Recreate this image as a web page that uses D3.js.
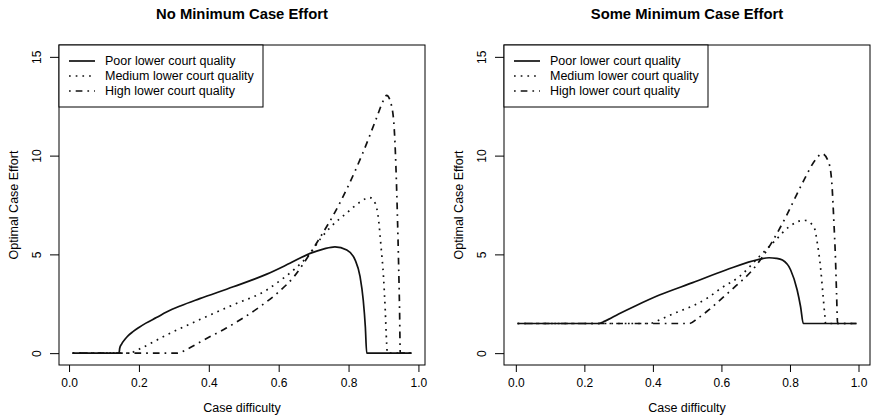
<!DOCTYPE html>
<html>
<head>
<meta charset="utf-8">
<script src="https://cdn.jsdelivr.net/npm/d3@7"></script>
<style>
  body { margin: 0; background: #fff; }
  svg { display: block; font-family: "Liberation Sans", Arial, Helvetica, sans-serif; }
</style>
</head>
<body>
<div id="chart"></div>
<script>
// ---- data ----
const seriesNames = ["Poor lower court quality", "Medium lower court quality", "High lower court quality"];
const xTicks = [0, 0.2, 0.4, 0.6, 0.8, 1.0];
const yTicks = [0, 5, 10, 15];
const titles = ["No Minimum Case Effort", "Some Minimum Case Effort"];

// panel 1: no minimum
const noMinPoorX = [0.01, 0.143, 0.145, 0.15, 0.16, 0.17, 0.183, 0.2, 0.22, 0.25, 0.279, 0.32, 0.374, 0.47, 0.566, 0.632, 0.69, 0.73, 0.761, 0.795, 0.819, 0.833, 0.842, 0.848, 0.852, 0.98];
const noMinPoorY = [0, 0, 0.25, 0.45, 0.7, 0.9, 1.09, 1.3, 1.52, 1.8, 2.08, 2.4, 2.76, 3.36, 4.0, 4.55, 5.05, 5.28, 5.38, 5.22, 4.71, 3.87, 2.69, 1.34, 0, 0];
const noMinMedX = [0.01, 0.172, 0.2, 0.279, 0.374, 0.47, 0.566, 0.6, 0.642, 0.69, 0.72, 0.747, 0.795, 0.833, 0.86, 0.876, 0.886, 0.893, 0.9, 0.905, 0.909, 0.911, 0.98];
const noMinMedY = [0, 0, 0.2, 0.92, 1.7, 2.45, 3.2, 3.62, 4.2, 5.05, 5.8, 6.35, 7.1, 7.65, 7.88, 7.6, 6.73, 5.38, 3.87, 2.19, 0.5, 0, 0];
const noMinHighX = [0.01, 0.308, 0.34, 0.374, 0.4, 0.45, 0.5, 0.55, 0.6, 0.645, 0.69, 0.72, 0.76, 0.8, 0.84, 0.88, 0.9, 0.909, 0.924, 0.933, 0.938, 0.943, 0.946, 0.948, 0.98];
const noMinHighY = [0, 0, 0.22, 0.55, 0.8, 1.27, 1.8, 2.4, 3.1, 3.9, 5.05, 5.9, 7.1, 8.5, 10.1, 11.9, 12.8, 13.05, 12.45, 10.6, 8.1, 4.7, 2.2, 0, 0];

// panel 2: some minimum
const someMinPoorX = [0.005, 0.242, 0.26, 0.3, 0.35, 0.419, 0.516, 0.613, 0.71, 0.739, 0.76, 0.778, 0.802, 0.821, 0.831, 0.839, 0.994];
const someMinPoorY = [1.5, 1.5, 1.62, 1.98, 2.4, 2.94, 3.57, 4.21, 4.75, 4.83, 4.8, 4.71, 4.21, 3.2, 2.35, 1.5, 1.5];
const someMinMedX = [0.005, 0.39, 0.419, 0.46, 0.516, 0.56, 0.6, 0.652, 0.71, 0.758, 0.797, 0.841, 0.87, 0.88, 0.889, 0.896, 0.902, 0.904, 0.994];
const someMinMedY = [1.5, 1.5, 1.68, 2.0, 2.39, 2.8, 3.3, 3.87, 4.88, 5.72, 6.39, 6.73, 6.39, 5.55, 4.37, 3.03, 1.85, 1.5, 1.5];
const someMinHighX = [0.005, 0.506, 0.53, 0.564, 0.603, 0.642, 0.69, 0.739, 0.788, 0.836, 0.875, 0.894, 0.914, 0.923, 0.928, 0.933, 0.936, 0.939, 0.994];
const someMinHighY = [1.5, 1.5, 1.75, 2.2, 2.8, 3.4, 4.2, 5.38, 6.9, 8.6, 9.8, 10.1, 9.6, 8.4, 6.7, 4.7, 3.0, 1.5, 1.5];

// line types like R's lty 1, 3, 4
const lwd = 1.7;
const dashes = [null, `${lwd},5`, `${lwd},5,6.7,5`];

const W = 875, H = 418;
const svg = d3.select("#chart").append("svg")
    .attr("width", W).attr("height", H);

function zip(xs, ys) { return xs.map((x, i) => [x, ys[i]]); }

function drawPanel(box, title, series) {
    const g = svg.append("g");

    // R style: 4% padding around the data x range
    const allX = series.flatMap(s => s.map(d => d[0]));
    const ext = d3.extent(allX);
    const pad = (ext[1] - ext[0]) * 0.04;
    const x = d3.scaleLinear().domain([ext[0] - pad, ext[1] + pad]).range([box.left, box.right]);
    const y = d3.scaleLinear().domain([-0.6, 15.6]).range([box.bottom, box.top]);

    // x axis
    const xAxis = g.append("g")
        .attr("transform", `translate(0,${box.bottom})`)
        .call(d3.axisBottom(x).tickValues(xTicks).tickSize(7).tickFormat(d3.format(".1f")));
    xAxis.select(".domain").remove();
    xAxis.selectAll("text").attr("dy", null).attr("y", 18)
        .attr("dominant-baseline", "central").attr("font-size", 12).attr("fill", "#000");
    xAxis.selectAll("line").attr("stroke", "#000");

    // y axis with rotated labels
    const yAxis = g.append("g")
        .attr("transform", `translate(${box.left},0)`)
        .call(d3.axisLeft(y).tickValues(yTicks).tickSize(9));
    yAxis.select(".domain").remove();
    yAxis.selectAll("line").attr("stroke", "#000");
    yAxis.selectAll("text")
        .attr("x", null).attr("dy", null)
        .attr("transform", "translate(-22,0) rotate(-90)")
        .attr("text-anchor", "middle").attr("dominant-baseline", "central")
        .attr("font-size", 12).attr("fill", "#000");

    // curves
    const line = d3.line().x(d => x(d[0])).y(d => y(d[1])).curve(d3.curveMonotoneX);
    series.forEach((s, i) => {
        g.append("path")
            .datum(s)
            .attr("d", line)
            .attr("fill", "none")
            .attr("stroke", "#111")
            .attr("stroke-width", lwd)
            .attr("stroke-dasharray", dashes[i]);
    });

    // frame
    g.append("rect")
        .attr("x", box.left).attr("y", box.top)
        .attr("width", box.right - box.left).attr("height", box.bottom - box.top)
        .attr("fill", "none").attr("stroke", "#000").attr("stroke-width", 1);

    // legend in the top left corner
    const leg = g.append("g").attr("transform", `translate(${box.left},${box.top})`);
    leg.append("rect")
        .attr("width", 204).attr("height", 62)
        .attr("fill", "#fff").attr("stroke", "#000").attr("stroke-width", 1);
    seriesNames.forEach((name, i) => {
        const ly = 16 + i * 15;
        leg.append("line")
            .attr("x1", 10).attr("x2", 36).attr("y1", ly).attr("y2", ly)
            .attr("stroke", "#111").attr("stroke-width", lwd)
            .attr("stroke-dasharray", dashes[i]);
        leg.append("text")
            .attr("x", 46).attr("y", ly)
            .attr("dominant-baseline", "central")
            .attr("font-size", 12.5)
            .text(name);
    });

    // titles
    const cx = (box.left + box.right) / 2;
    g.append("text")
        .attr("x", cx).attr("y", 14)
        .attr("text-anchor", "middle").attr("dominant-baseline", "central")
        .attr("font-size", 14.8).attr("font-weight", "bold")
        .text(title);
    g.append("text")
        .attr("x", cx).attr("y", box.bottom + 43)
        .attr("text-anchor", "middle").attr("dominant-baseline", "central")
        .attr("font-size", 12.5)
        .text("Case difficulty");
    g.append("text")
        .attr("transform", `translate(${box.left - 45},${(box.top + box.bottom) / 2}) rotate(-90)`)
        .attr("text-anchor", "middle").attr("dominant-baseline", "central")
        .attr("font-size", 12.5)
        .text("Optimal Case Effort");
}

drawPanel({left: 59, right: 425, top: 45, bottom: 365}, titles[0], [
    zip(noMinPoorX, noMinPoorY),
    zip(noMinMedX, noMinMedY),
    zip(noMinHighX, noMinHighY)
]);
drawPanel({left: 504, right: 870, top: 45, bottom: 365}, titles[1], [
    zip(someMinPoorX, someMinPoorY),
    zip(someMinMedX, someMinMedY),
    zip(someMinHighX, someMinHighY)
]);
</script>
</body>
</html>
